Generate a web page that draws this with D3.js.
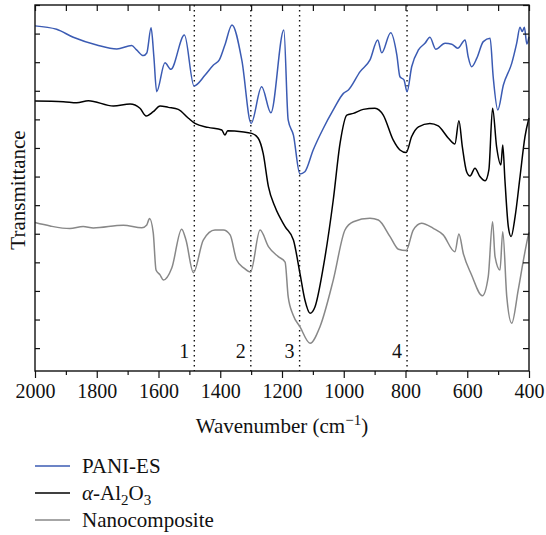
<!DOCTYPE html>
<html>
<head>
<meta charset="utf-8">
<script src="https://cdn.jsdelivr.net/npm/d3@7"></script>
<style>
  html, body { margin: 0; padding: 0; background: #fff; }
  svg { display: block; }
  text { font-family: "Liberation Serif", "Times New Roman", serif; fill: #111; }
</style>
</head>
<body>
<svg id="chart" width="546" height="535"></svg>
<script>
// ---- data (wavenumber in cm^-1, transmittance in arbitrary units, curves offset) ----
const seriesNames = ["PANI-ES", "α-Al2O3", "Nanocomposite"];

const paniWn = [2000,1930,1876,1800,1735,1687,1671,1649,1638,1624,1615,1606,1579,1560,1516,1485,1449,1422,1403,1385,1362,1330,1300,1266,1236,1194,1180,1163,1142,1126,1099,1066,1034,1001,985,947,915,890,877,848,828,818,805,795,780,758,737,721,702,672,650,631,607,597,586,569,548,526,516,501,483,456,440,429,422,415,407,400];
const paniT  = [11.27,11.15,10.87,10.60,10.46,10.58,10.43,10.23,10.32,11.20,10.19,8.97,9.98,9.75,10.95,9.17,9.55,9.90,10.08,10.60,11.30,10.06,7.86,9.14,8.23,11.13,7.98,7.45,6.09,6.17,6.93,7.69,8.33,8.91,9.03,9.67,10.08,10.78,10.33,11.03,10.25,9.49,9.38,8.97,9.84,10.43,10.66,10.87,10.45,10.66,10.63,10.49,10.78,10.19,9.84,10.14,10.72,10.84,9.49,8.33,9.20,9.96,10.66,11.22,11.07,11.22,10.64,10.89];

const aluWn = [2000,1908,1865,1827,1746,1692,1660,1640,1617,1595,1568,1536,1503,1482,1439,1395,1385,1376,1331,1298,1277,1261,1244,1223,1190,1163,1142,1126,1109,1093,1066,1034,1012,990,969,937,899,872,840,818,798,780,758,721,694,661,640,627,616,602,591,575,559,542,530,518,505,491,485,478,467,458,445,429,413,400];
const aluT  = [8.64,8.62,8.58,8.65,8.47,8.54,8.39,8.12,8.27,8.47,8.42,8.35,8.04,7.86,7.72,7.63,7.45,7.60,7.57,7.51,7.34,6.81,5.65,4.95,4.25,3.78,2.62,1.69,1.22,1.45,2.85,5.18,7.16,8.15,8.21,8.35,8.39,8.15,7.28,6.93,6.84,7.40,7.74,7.86,7.77,7.34,7.14,7.95,7.05,6.17,6.02,6.29,6.00,5.85,6.23,8.39,7.05,6.41,7.10,5.88,4.25,3.90,4.60,6.00,7.40,8.05];

const nanoWn = [2000,1951,1887,1844,1811,1714,1654,1638,1629,1617,1608,1595,1584,1557,1525,1511,1487,1455,1417,1390,1368,1347,1323,1302,1271,1244,1212,1190,1180,1164,1142,1109,1077,1034,996,969,915,888,850,823,798,775,748,710,678,640,627,613,586,551,532,518,510,494,485,472,456,435,418,402,400];
const nanoT  = [4.39,4.27,4.18,4.25,4.20,4.30,4.21,4.31,4.53,4.03,2.73,2.56,2.38,2.80,4.16,3.78,2.64,3.78,4.13,4.13,3.96,3.08,2.80,2.66,4.13,3.55,3.20,3.01,1.80,1.16,0.75,0.17,0.75,2.38,4.13,4.42,4.54,4.48,3.90,3.46,3.41,4.13,4.37,4.19,3.96,3.37,3.99,3.32,2.56,1.83,2.50,4.42,3.20,2.73,4.07,1.80,0.87,2.03,3.08,3.96,4.05];

const markerWn = [1484, 1301, 1143, 795];
const markerLabels = ["1", "2", "3", "4"];
const xTickValues = [2000, 1800, 1600, 1400, 1200, 1000, 800, 600, 400];
const xMinorValues = [1900, 1700, 1500, 1300, 1100, 900, 700, 500];

// ---- layout ----
const L = 35, R = 529, T = 5, B = 371;
const colors = ["#3b5bb3", "#000000", "#888888"];

const svg = d3.select("#chart");
const x = d3.scaleLinear().domain([2000, 400]).range([L, R]);
const y = d3.scaleLinear().domain([-0.8, 12]).range([B, T]);

const series = [
  paniWn.map((w, i) => [w, paniT[i]]),
  aluWn.map((w, i) => [w, aluT[i]]),
  nanoWn.map((w, i) => [w, nanoT[i]])
];

const line = d3.line().x(d => x(d[0])).y(d => y(d[1])).curve(d3.curveMonotoneX);

// dotted marker lines
svg.append("g").selectAll("line").data(markerWn).join("line")
  .attr("x1", d => x(d)).attr("x2", d => x(d))
  .attr("y1", T).attr("y2", B)
  .attr("stroke", "#111").attr("stroke-width", 1.4)
  .attr("stroke-dasharray", "1.4,3.6");

svg.append("g").selectAll("text").data(markerWn).join("text")
  .attr("x", d => x(d) - 10).attr("y", 358)
  .attr("text-anchor", "middle").attr("font-size", 20)
  .text((d, i) => markerLabels[i]);

// curves
svg.append("g").selectAll("path").data(series).join("path")
  .attr("d", line).attr("fill", "none")
  .attr("stroke", (d, i) => colors[i]).attr("stroke-width", 1.5)
  .attr("stroke-linejoin", "round");

// axes
const axisStyle = g => {
  g.selectAll(".domain").remove();
  g.selectAll(".tick line").attr("stroke", "#111").attr("stroke-width", 1.2);
};

// bottom major with labels
svg.append("g").attr("transform", `translate(0,${B})`)
  .call(d3.axisBottom(x).tickValues(xTickValues).tickSize(7).tickPadding(6).tickFormat(d3.format("d")))
  .call(axisStyle)
  .call(g => g.selectAll("text").attr("font-size", 20).attr("fill", "#111"));
// bottom minor
svg.append("g").attr("transform", `translate(0,${B})`)
  .call(d3.axisBottom(x).tickValues(xMinorValues).tickSize(4).tickFormat(""))
  .call(axisStyle);
// top inward
svg.append("g").attr("transform", `translate(0,${T})`)
  .call(d3.axisBottom(x).tickValues(xTickValues.concat(xMinorValues)).tickSize(6).tickFormat(""))
  .call(axisStyle);
// left inward
svg.append("g").attr("transform", `translate(${L},0)`)
  .call(d3.axisRight(y).ticks(12).tickSize(5).tickFormat(""))
  .call(axisStyle);
// right inward
svg.append("g").attr("transform", `translate(${R},0)`)
  .call(d3.axisLeft(y).ticks(12).tickSize(6).tickFormat(""))
  .call(axisStyle);

// frame
svg.append("rect").attr("x", L).attr("y", T).attr("width", R - L).attr("height", B - T)
  .attr("fill", "none").attr("stroke", "#111").attr("stroke-width", 1.4);

// axis titles
const xt = svg.append("text").attr("x", (L + R) / 2).attr("y", 433)
  .attr("text-anchor", "middle").attr("font-size", 21);
xt.append("tspan").text("Wavenumber (cm");
xt.append("tspan").attr("dy", -8).attr("font-size", 15).text("−1");
xt.append("tspan").attr("dy", 8).text(")");

svg.append("text").attr("transform", `translate(25,${(T + B) / 2 + 2}) rotate(-90)`)
  .attr("text-anchor", "middle").attr("font-size", 21).text("Transmittance");

// legend
const legendY = [466, 493, 520];
const lg = svg.append("g");
lg.selectAll("line").data(seriesNames).join("line")
  .attr("x1", 35).attr("x2", 70)
  .attr("y1", (d, i) => legendY[i]).attr("y2", (d, i) => legendY[i])
  .attr("stroke", (d, i) => colors[i]).attr("stroke-width", 1.5);

lg.append("text").attr("x", 82).attr("y", legendY[0] + 7).attr("font-size", 21).text(seriesNames[0]);
const t2 = lg.append("text").attr("x", 82).attr("y", legendY[1] + 7).attr("font-size", 21);
t2.append("tspan").attr("font-style", "italic").text("α");
t2.append("tspan").text("-Al");
t2.append("tspan").attr("dy", 5).attr("font-size", 15).text("2");
t2.append("tspan").attr("dy", -5).text("O");
t2.append("tspan").attr("dy", 5).attr("font-size", 15).text("3");
lg.append("text").attr("x", 82).attr("y", legendY[2] + 7).attr("font-size", 21).text(seriesNames[2]);
</script>
</body>
</html>
